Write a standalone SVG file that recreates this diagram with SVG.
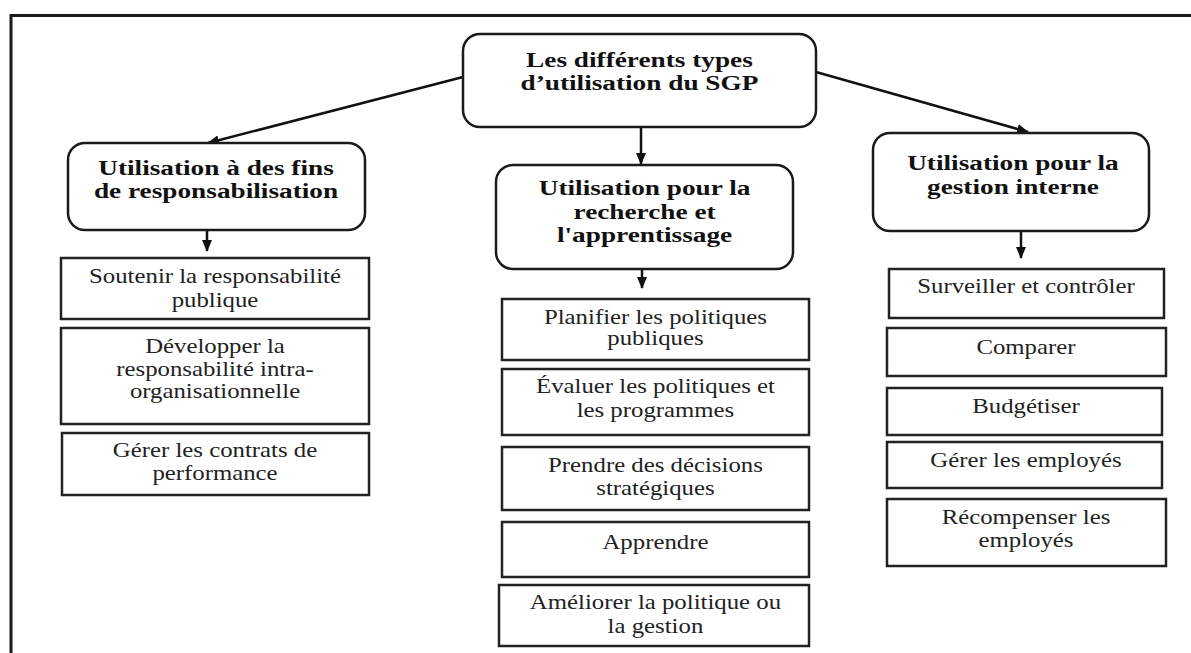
<svg xmlns="http://www.w3.org/2000/svg" width="1191" height="653" viewBox="0 0 1191 653">
<style>
.bg{fill:#fff}
.frame{fill:none;stroke:#1a1a1a;stroke-width:3}
.rbox{fill:#fff;stroke:#1a1a1a;stroke-width:2.5}
.box{fill:#fff;stroke:#222;stroke-width:2.5}
.t{font-family:"Liberation Serif","Times New Roman",serif;text-anchor:middle}
.b{font-size:22px;font-weight:bold;fill:#111}
.n{font-size:20px;fill:#222}
.conn{fill:none;stroke:#111;stroke-width:2.5}
</style>
<defs>
<marker id="ah" markerUnits="userSpaceOnUse" markerWidth="12" markerHeight="12" refX="11" refY="5" orient="auto" viewBox="0 0 12 10">
<path d="M0,0 L12,5 L0,10 z" fill="#111"/>
</marker>
</defs>
<rect class="bg" x="0" y="0" width="1191" height="653"/>
<polyline class="frame" points="11,653 11,15.5 1191,15.5"/>

<g id="connectors">
<line class="conn" x1="463" y1="77" x2="208" y2="143" marker-end="url(#ah)"/>
<line class="conn" x1="816" y1="72" x2="1028" y2="132" marker-end="url(#ah)"/>
<line class="conn" x1="641" y1="128" x2="641" y2="164" marker-end="url(#ah)"/>
<line class="conn" x1="207" y1="231" x2="207" y2="251" marker-end="url(#ah)"/>
<line class="conn" x1="642" y1="270" x2="642" y2="288" marker-end="url(#ah)"/>
<line class="conn" x1="1021" y1="232" x2="1021" y2="258" marker-end="url(#ah)"/>
</g>

<g id="root">
<rect class="rbox" x="463" y="34" width="353" height="93" rx="17"/>
<text class="t b" transform="scale(1.24 1)" x="515.7" y="67">Les différents types</text>
<text class="t b" transform="scale(1.24 1)" x="515.7" y="90">d’utilisation du SGP</text>
</g>

<g id="mid-left">
<rect class="rbox" x="68" y="143" width="297" height="87" rx="17"/>
<text class="t b" transform="scale(1.24 1)" x="174.2" y="175">Utilisation à des fins</text>
<text class="t b" transform="scale(1.24 1)" x="174.2" y="198">de responsabilisation</text>
</g>

<g id="mid-center">
<rect class="rbox" x="496" y="165" width="297" height="104" rx="17"/>
<text class="t b" transform="scale(1.24 1)" x="519.8" y="195">Utilisation pour la</text>
<text class="t b" transform="scale(1.24 1)" x="519.8" y="219">recherche et</text>
<text class="t b" transform="scale(1.24 1)" x="519.8" y="242">l'apprentissage</text>
</g>

<g id="mid-right">
<rect class="rbox" x="873" y="133" width="276" height="98" rx="17"/>
<text class="t b" transform="scale(1.24 1)" x="816.9" y="170">Utilisation pour la</text>
<text class="t b" transform="scale(1.24 1)" x="816.9" y="194">gestion interne</text>
</g>

<g id="l1">
<rect class="box" x="61" y="258" width="308" height="61"/>
<text class="t n" transform="scale(1.24 1)" x="173.4" y="283">Soutenir la responsabilité</text>
<text class="t n" transform="scale(1.24 1)" x="173.4" y="307">publique</text>
</g>
<g id="l2">
<rect class="box" x="61" y="328" width="308" height="96"/>
<text class="t n" transform="scale(1.24 1)" x="173.4" y="353">Développer la</text>
<text class="t n" transform="scale(1.24 1)" x="173.4" y="376">responsabilité intra-</text>
<text class="t n" transform="scale(1.24 1)" x="173.4" y="398">organisationnelle</text>
</g>
<g id="l3">
<rect class="box" x="62" y="433" width="307" height="62"/>
<text class="t n" transform="scale(1.24 1)" x="173.4" y="457">Gérer les contrats de</text>
<text class="t n" transform="scale(1.24 1)" x="173.4" y="480">performance</text>
</g>

<g id="c1">
<rect class="box" x="502" y="299" width="307" height="61"/>
<text class="t n" transform="scale(1.24 1)" x="528.6" y="324">Planifier les politiques</text>
<text class="t n" transform="scale(1.24 1)" x="528.6" y="345">publiques</text>
</g>
<g id="c2">
<rect class="box" x="502" y="369" width="307" height="66"/>
<text class="t n" transform="scale(1.24 1)" x="528.6" y="393">Évaluer les politiques et</text>
<text class="t n" transform="scale(1.24 1)" x="528.6" y="417">les programmes</text>
</g>
<g id="c3">
<rect class="box" x="502" y="447" width="307" height="63"/>
<text class="t n" transform="scale(1.24 1)" x="528.6" y="472">Prendre des décisions</text>
<text class="t n" transform="scale(1.24 1)" x="528.6" y="495">stratégiques</text>
</g>
<g id="c4">
<rect class="box" x="502" y="522" width="307" height="55"/>
<text class="t n" transform="scale(1.24 1)" x="528.6" y="549">Apprendre</text>
</g>
<g id="c5">
<rect class="box" x="499" y="585" width="310" height="61"/>
<text class="t n" transform="scale(1.24 1)" x="528.6" y="609">Améliorer la politique ou</text>
<text class="t n" transform="scale(1.24 1)" x="528.6" y="633">la gestion</text>
</g>

<g id="r1">
<rect class="box" x="889" y="269" width="275" height="49"/>
<text class="t n" transform="scale(1.24 1)" x="827.4" y="293">Surveiller et contrôler</text>
</g>
<g id="r2">
<rect class="box" x="887" y="328" width="279" height="48"/>
<text class="t n" transform="scale(1.24 1)" x="827.4" y="354">Comparer</text>
</g>
<g id="r3">
<rect class="box" x="887" y="388" width="275" height="47"/>
<text class="t n" transform="scale(1.24 1)" x="827.4" y="413">Budgétiser</text>
</g>
<g id="r4">
<rect class="box" x="887" y="442" width="275" height="46"/>
<text class="t n" transform="scale(1.24 1)" x="827.4" y="467">Gérer les employés</text>
</g>
<g id="r5">
<rect class="box" x="887" y="499" width="279" height="67"/>
<text class="t n" transform="scale(1.24 1)" x="827.4" y="524">Récompenser les</text>
<text class="t n" transform="scale(1.24 1)" x="827.4" y="547">employés</text>
</g>
</svg>
